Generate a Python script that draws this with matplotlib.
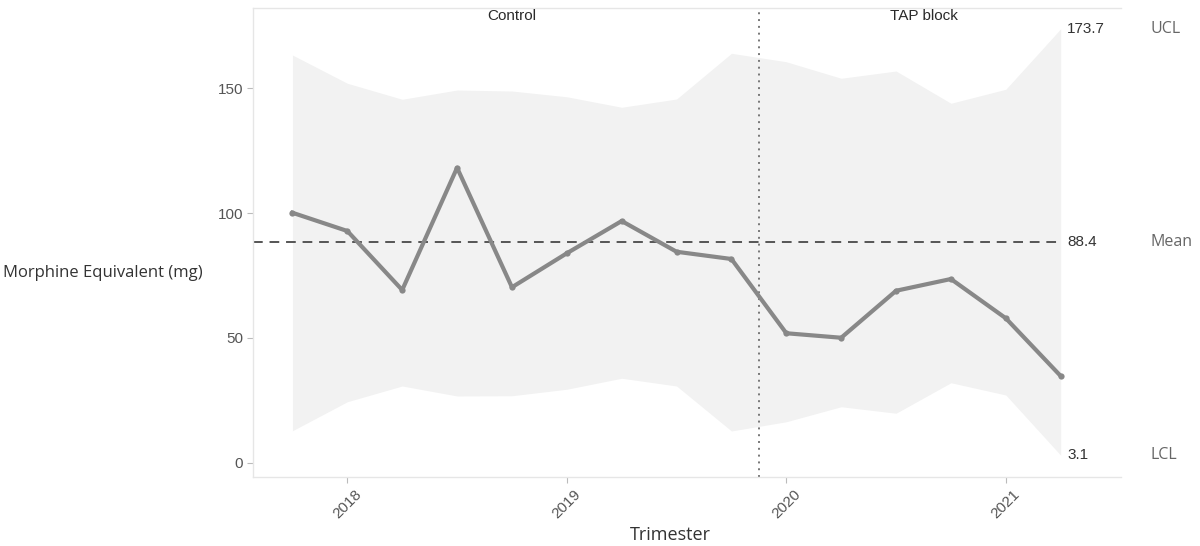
import matplotlib
matplotlib.use("Agg")
import matplotlib.pyplot as plt
import numpy as np

# ---- data ----
trimester = [2017.75, 2018.0, 2018.25, 2018.5, 2018.75, 2019.0, 2019.25, 2019.5,
             2019.75, 2020.0, 2020.25, 2020.5, 2020.75, 2021.0, 2021.25]
morphine = [100.1, 92.8, 69.2, 118.1, 70.3, 83.9, 96.8, 84.5,
            81.6, 51.9, 50.1, 68.9, 73.6, 57.9, 34.8]
ucl = [163.2, 151.9, 145.5, 149.2, 148.8, 146.5, 142.3, 145.6,
       163.9, 160.5, 153.9, 156.8, 143.9, 149.5, 173.7]
lcl = [12.9, 24.5, 30.8, 26.8, 26.9, 29.5, 33.9, 30.8,
       12.8, 16.5, 22.5, 19.9, 32.1, 27.2, 3.1]
mean_value = 88.4
phase_change = 2019.875
phase_labels = ["Control", "TAP block"]
phase_centers = [2018.75, 2020.625]
year_ticks = [2018, 2019, 2020, 2021]
y_ticks = [0, 50, 100, 150]

fig = plt.figure(figsize=(12, 5.46), dpi=100)
ax = fig.add_axes([0.2108, 0.1264, 0.7234, 0.8589])

ax.fill_between(trimester, lcl, ucl, color="#f2f2f2", linewidth=0, zorder=1)
ax.axhline(mean_value, xmin=0, xmax=(trimester[-1] - 2017.57) / (2021.525 - 2017.57),
           color="#555555", linestyle=(0, (5, 3.5)), linewidth=1.4, zorder=2)
ax.axvline(phase_change, color="#777777", linestyle=(0, (1, 2.5)), linewidth=1.4, zorder=2)
ax.plot(trimester, morphine, color="#888888", linewidth=3, marker="o", markersize=4.5,
        markeredgewidth=0, zorder=3)

ax.set_xlim(2017.57, 2021.525)
ax.set_ylim(-5.6, 182)
ax.set_xticks(year_ticks)
ax.set_xticklabels([str(y) for y in year_ticks], rotation=45, ha="center",
                   fontsize=11, color="#555555", family="Liberation Sans")
ax.set_yticks(y_ticks)
ax.set_yticklabels([str(v) for v in y_ticks], fontsize=11, color="#555555",
                   family="Liberation Sans")
ax.tick_params(axis="both", length=4, width=0.8, color="#bbbbbb", pad=3)

for s in ["top", "left", "bottom"]:
    ax.spines[s].set_color("#e6e6e6")
    ax.spines[s].set_linewidth(1.0)
ax.spines["right"].set_visible(False)

for lbl, c in zip(phase_labels, phase_centers):
    ax.text(c, 179, lbl, ha="center", va="center", fontsize=11, color="#2a2a2a",
            family="Liberation Sans")

x_lab = trimester[-1] + 0.03
ax.text(x_lab, ucl[-1], f"{ucl[-1]:.1f}", ha="left", va="center", fontsize=11,
        color="#333333", family="Liberation Sans")
ax.text(x_lab, mean_value, f"{mean_value:.1f}", ha="left", va="center", fontsize=11,
        color="#333333", family="Liberation Sans")
ax.text(x_lab, lcl[-1], f"{lcl[-1]:.1f}", ha="left", va="center", fontsize=11,
        color="#333333", family="Liberation Sans")

# side labels outside the axes
for name, val in zip(["UCL", "Mean", "LCL"], [ucl[-1], mean_value, lcl[-1]]):
    ax.annotate(name, xy=(1.0, val), xycoords=("axes fraction", "data"),
                xytext=(21, 0), textcoords="offset points", ha="left", va="center",
                fontsize=11.5, color="#666666", family="Open Sans", annotation_clip=False)

fig.text(0.0025, 1 - 273 / 546, "Morphine Equivalent (mg)", ha="left", va="center",
         fontsize=12, color="#333333", family="Open Sans")
fig.text(670 / 1200, 1 - 535 / 546, "Trimester", ha="center", va="center",
         fontsize=13, color="#333333", family="Open Sans")

fig.savefig("out.png", dpi=100)
